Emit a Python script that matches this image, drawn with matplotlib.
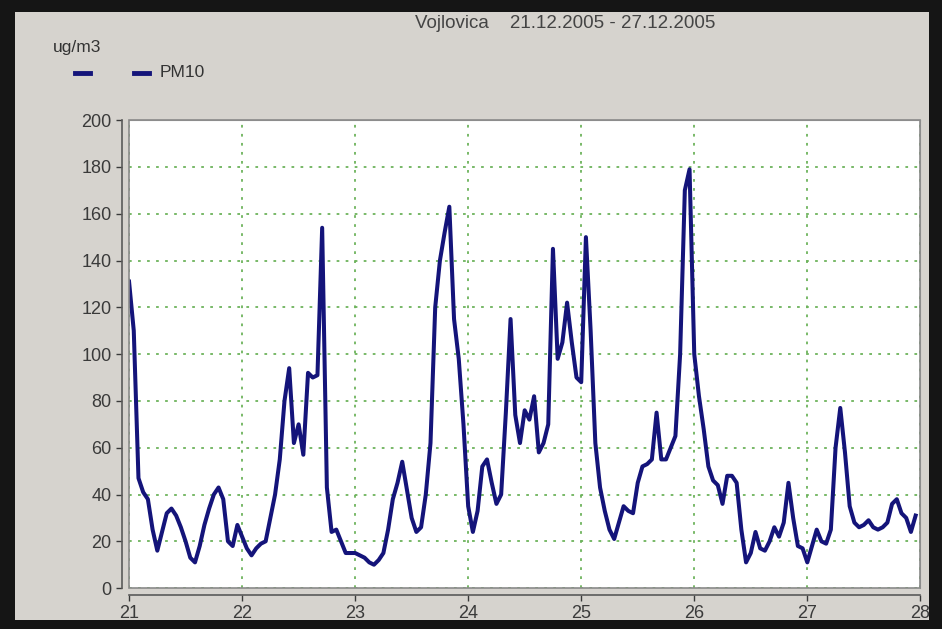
import numpy as np
import matplotlib.pyplot as plt
from matplotlib.patches import Rectangle
from matplotlib.lines import Line2D

# PM10 hourly values (ug/m3), 21.12 00h .. 27.12 23h
day21 = [131, 110, 47, 41, 38, 25, 16, 24, 32, 34, 31, 26,
         20, 13, 11, 18, 27, 34, 40, 43, 38, 20, 18, 27]
day22 = [22, 17, 14, 17, 19, 20, 30, 40, 55, 80, 94, 62,
         70, 57, 92, 90, 91, 154, 43, 24, 25, 20, 15, 15]
day23 = [15, 14, 13, 11, 10, 12, 15, 25, 38, 45, 54, 42,
         30, 24, 26, 40, 62, 120, 140, 152, 163, 115, 98, 70]
day24 = [35, 24, 33, 52, 55, 45, 36, 40, 75, 115, 74, 62,
         76, 72, 82, 58, 62, 70, 145, 98, 105, 122, 105, 90]
day25 = [88, 150, 110, 62, 43, 33, 25, 21, 28, 35, 33, 32,
         45, 52, 53, 55, 75, 55, 55, 60, 65, 100, 170, 179]
day26 = [100, 82, 68, 52, 46, 44, 36, 48, 48, 45, 25, 11,
         15, 24, 17, 16, 20, 26, 22, 28, 45, 30, 18, 17]
day27 = [11, 18, 25, 20, 19, 25, 60, 77, 58, 35, 28, 26,
         27, 29, 26, 25, 26, 28, 36, 38, 32, 30, 24, 31]

pm10 = day21 + day22 + day23 + day24 + day25 + day26 + day27
days = [21, 22, 23, 24, 25, 26, 27, 28]
y_ticks = [0, 20, 40, 60, 80, 100, 120, 140, 160, 180, 200]

x = 21 + np.arange(len(pm10)) / 24.0

plt.rcParams['font.family'] = ['Liberation Sans', 'DejaVu Sans']

fig = plt.figure(figsize=(9.42, 6.29), dpi=100)
fig.patch.set_facecolor('#151515')

# grey window panel with soft dark edge
for i, a in enumerate([0.3, 0.55, 1.0]):
    pad = 0.004 * (3 - i)
    fig.patches.append(Rectangle((0.012 + pad, 0.010 + pad), 0.978 - 2 * pad, 0.975 - 2 * pad,
                                 transform=fig.transFigure, facecolor='#d6d3ce',
                                 edgecolor='none', alpha=a, zorder=-5))

ax = fig.add_axes([0.137, 0.065, 0.840, 0.744])
ax.set_zorder(2)
ax.set_facecolor('white')

ax.plot(x, pm10, color='#14147a', linewidth=2.9, solid_joinstyle='round', zorder=3)

ax.set_xlim(21, 28)
ax.set_ylim(0, 200)
ax.set_xticks(days)
ax.set_yticks(y_ticks)
ax.tick_params(labelsize=13, colors='#3a3a3a', length=4, width=1)
for lbl in ax.get_xticklabels() + ax.get_yticklabels():
    lbl.set_color('#2e2e2e')

ax.grid(True, color='#6db35c', linestyle=(0, (1.5, 3.5)), linewidth=1.3)
ax.set_axisbelow(True)

for side in ['top', 'right']:
    ax.spines[side].set_color('#9a9a9a')
for side in ['left', 'bottom']:
    ax.spines[side].set_position(('outward', 5))
    ax.spines[side].set_color('#5a5a5a')
    ax.spines[side].set_linewidth(1.2)
ax.add_patch(Rectangle((0, 0), 1, 1, transform=ax.transAxes, fill=False,
                       edgecolor='#8a8a8a', linewidth=1.2, zorder=4, clip_on=False))

fig.text(0.60, 0.962, 'Vojlovica    21.12.2005 - 27.12.2005', ha='center', va='center',
         fontsize=13.5, color='#444444')
fig.text(0.056, 0.925, 'ug/m3', ha='left', va='center', fontsize=12.5, color='#333333')

# legend: two short dashes and the series name
for x0 in [0.080, 0.142]:
    fig.lines.append(Line2D([x0, x0 + 0.016], [0.884, 0.884], transform=fig.transFigure,
                            color='#14147a', linewidth=3.5))
fig.text(0.169, 0.884, 'PM10', ha='left', va='center', fontsize=12.5, color='#333333')

fig.savefig('out.png', dpi=100, facecolor=fig.get_facecolor())
